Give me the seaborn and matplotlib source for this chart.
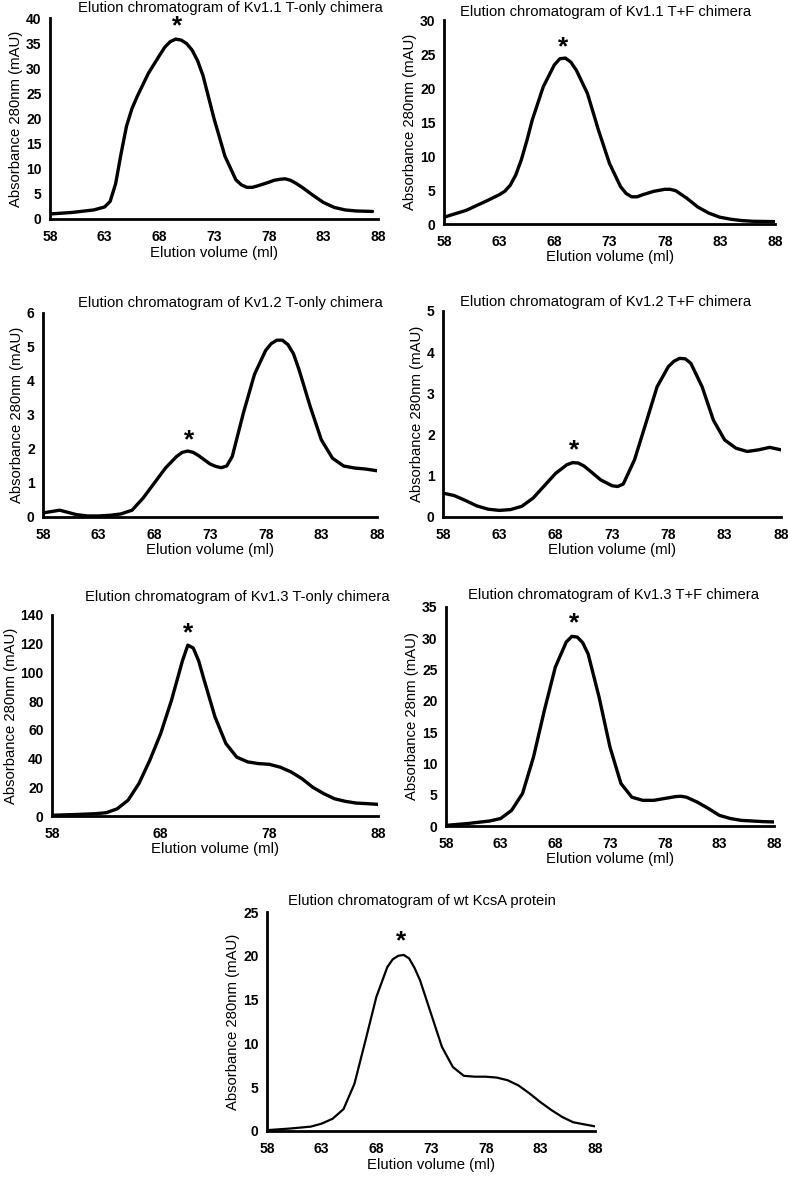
import matplotlib
matplotlib.use("Agg")
import matplotlib.pyplot as plt
import numpy as np
import pandas as pd
import seaborn as sns

sns.set_style("white")
plt.rcParams['font.family'] = ['Liberation Sans', 'DejaVu Sans']
plt.rcParams['text.color'] = 'black'
plt.rcParams['axes.labelcolor'] = 'black'
plt.rcParams['xtick.color'] = 'black'
plt.rcParams['ytick.color'] = 'black'

W, H = 788, 1177

# Kv1.1 T-only
x_11t = [58, 60, 62, 63, 63.5, 64, 64.5, 65, 65.5, 66, 67, 68, 68.5, 69, 69.5, 70, 70.5, 71, 71.5, 72,
         73, 74, 75, 75.5, 76, 76.5, 77, 78, 78.5, 79, 79.5, 80, 80.5, 81, 82, 83, 84, 85, 86, 87.5]
y_11t = [1.0, 1.3, 1.8, 2.4, 3.5, 7, 13, 18.5, 22, 24.5, 29, 32.5, 34.2, 35.3, 35.8, 35.6, 34.9, 33.6, 31.5, 28.5,
         20, 12.5, 7.8, 6.8, 6.3, 6.3, 6.6, 7.3, 7.7, 7.9, 8.0, 7.7, 7.1, 6.4, 4.8, 3.3, 2.3, 1.8, 1.6, 1.5]
# Kv1.1 T+F
x_11f = [58, 60, 62, 63, 63.5, 64, 64.5, 65, 65.5, 66, 67, 68, 68.5, 69, 69.5, 70, 71, 72, 73, 74,
         74.5, 75, 75.5, 76, 77, 78, 78.5, 79, 80, 81, 82, 83, 84, 85, 86, 88]
y_11f = [1.0, 2.0, 3.5, 4.3, 4.8, 5.7, 7.2, 9.4, 12.2, 15.3, 20.2, 23.4, 24.3, 24.4, 23.8, 22.6, 19.2, 13.8, 8.9, 5.5,
         4.5, 4.0, 4.0, 4.3, 4.8, 5.1, 5.1, 4.9, 3.8, 2.5, 1.6, 1.0, 0.7, 0.5, 0.4, 0.35]
# Kv1.2 T-only
x_12t = [58, 59.5, 61, 62, 63, 64, 65, 66, 67, 68, 69, 70, 70.5, 71, 71.5, 72, 73, 73.5, 74, 74.5,
         75, 76, 77, 78, 78.5, 79, 79.5, 80, 80.5, 81, 82, 83, 84, 85, 86, 87, 88]
y_12t = [0.12, 0.2, 0.07, 0.03, 0.03, 0.05, 0.09, 0.2, 0.56, 1.0, 1.44, 1.78, 1.9, 1.94, 1.9, 1.8, 1.56, 1.49, 1.45, 1.5,
         1.78, 3.06, 4.2, 4.9, 5.1, 5.2, 5.2, 5.07, 4.8, 4.33, 3.25, 2.27, 1.73, 1.5, 1.44, 1.41, 1.36]
# Kv1.2 T+F
x_12f = [58, 59, 60, 61, 62, 63, 64, 65, 66, 67, 68, 69, 69.5, 70, 70.5, 71, 72, 73, 73.5, 74,
         75, 76, 77, 78, 78.5, 79, 79.5, 80, 81, 82, 83, 84, 85, 86, 87, 88]
y_12f = [0.58, 0.52, 0.4, 0.27, 0.19, 0.16, 0.18, 0.26, 0.46, 0.76, 1.06, 1.27, 1.32, 1.31, 1.24, 1.13, 0.9, 0.76, 0.74, 0.8,
         1.39, 2.27, 3.16, 3.65, 3.78, 3.85, 3.84, 3.73, 3.16, 2.35, 1.87, 1.67, 1.59, 1.63, 1.69, 1.63]
# Kv1.3 T-only
x_13t = [58, 60, 62, 63, 64, 65, 66, 67, 68, 69, 70, 70.5, 71, 71.5, 72, 73, 74, 75, 76, 77,
         78, 79, 80, 81, 82, 83, 84, 85, 86, 87, 88]
y_13t = [0.5, 1.0, 1.6, 2.3, 5.0, 11.0, 22.6, 38.8, 57.4, 80.7, 108, 119, 117, 108, 94.7, 69, 50.5, 41, 37.7, 36.5,
         36, 34, 30.7, 26, 20, 15.6, 12, 10.2, 9, 8.6, 8.1]
# Kv1.3 T+F
x_13f = [58, 60, 62, 63, 64, 65, 66, 67, 68, 69, 69.5, 70, 70.5, 71, 72, 73, 74, 75, 76, 77,
         78, 79, 79.5, 80, 81, 82, 83, 84, 85, 86, 87, 88]
y_13f = [0.1, 0.4, 0.8, 1.2, 2.5, 5.2, 11, 18.5, 25.4, 29.4, 30.3, 30.2, 29.3, 27.5, 20.6, 12.6, 6.8, 4.6, 4.1, 4.1,
         4.4, 4.7, 4.75, 4.6, 3.8, 2.8, 1.7, 1.2, 0.9, 0.8, 0.7, 0.65]
# wt KcsA
x_wt = [58, 60, 62, 63, 64, 65, 66, 67, 68, 69, 69.5, 70, 70.5, 71, 71.5, 72, 73, 74, 75, 76,
        77, 78, 79, 80, 81, 82, 83, 84, 85, 86, 87, 88]
y_wt = [0.1, 0.27, 0.5, 0.84, 1.4, 2.5, 5.4, 10.3, 15.3, 18.7, 19.6, 20.0, 20.1, 19.7, 18.6, 17.2, 13.4, 9.6, 7.3, 6.3,
        6.2, 6.2, 6.1, 5.8, 5.2, 4.3, 3.3, 2.4, 1.6, 1.0, 0.76, 0.53]

titles = ["Elution chromatogram of Kv1.1 T-only chimera",
          "Elution chromatogram of Kv1.1 T+F chimera",
          "Elution chromatogram of Kv1.2 T-only chimera",
          "Elution chromatogram of Kv1.2 T+F chimera",
          "Elution chromatogram of Kv1.3 T-only chimera",
          "Elution chromatogram of Kv1.3 T+F chimera",
          "Elution chromatogram of wt KcsA protein"]
ylabels = ["Absorbance 280nm (mAU)"] * 5 + ["Absorbance 28nm (mAU)", "Absorbance 280nm (mAU)"]
xs = [x_11t, x_11f, x_12t, x_12f, x_13t, x_13f, x_wt]
ys = [y_11t, y_11f, y_12t, y_12f, y_13t, y_13f, y_wt]
ymax = [40, 30, 6, 5, 140, 35, 25]
ystep = [5, 5, 1, 1, 20, 5, 5]
xstep = [5, 5, 5, 5, 10, 5, 5]
star_x = [69.6, 68.8, 71.1, 69.6, 70.5, 69.7, 70.3]
star_y = [38.3, 26.0, 2.25, 1.63, 127, 32.4, 21.7]

# pixel boxes (left, top, right, bottom) and title centre (x, y)
boxes = [(50, 18, 378, 219), (444, 20, 775, 224),
         (43, 313, 377, 517), (443, 311, 781, 517),
         (52, 615, 378, 816), (446, 607, 774, 826),
         (267, 912, 595, 1131)]
title_pos = [(230, 8), (606, 12), (230, 303), (606, 302), (237, 597), (614, 595), (422, 901)]
lws = [2.4, 2.4, 2.4, 2.4, 2.4, 2.4, 1.6]

fig = plt.figure(figsize=(W / 100, H / 100), dpi=100)

for i in range(7):
    l, t, r, b = boxes[i]
    ax = fig.add_axes([l / W, 1 - b / H, (r - l) / W, (b - t) / H])
    df = pd.DataFrame({"x": xs[i], "y": ys[i]})
    sns.lineplot(data=df, x="x", y="y", ax=ax, color="black", linewidth=lws[i])
    ax.lines[0].set_solid_joinstyle("round")
    ax.lines[0].set_solid_capstyle("round")
    ax.set_xlim(58, 88)
    ax.set_ylim(0, ymax[i])
    ax.set_xticks(np.arange(58, 89, xstep[i]))
    ax.set_yticks(np.arange(0, ymax[i] + 0.01, ystep[i]))
    ax.tick_params(length=0, labelsize=10)
    ax.tick_params(axis="x", pad=8)
    ax.tick_params(axis="y", pad=6)
    for lab in ax.get_xticklabels() + ax.get_yticklabels():
        lab.set_fontweight("bold")
    sns.despine(ax=ax)
    for s in ["left", "bottom"]:
        ax.spines[s].set_linewidth(2)
        ax.spines[s].set_color("black")
    ax.set_xlabel("Elution volume (ml)", fontsize=10.7, labelpad=1)
    ax.set_ylabel(ylabels[i], fontsize=10.7, labelpad=2)
    ax.text(star_x[i], star_y[i], "*", ha="center", va="center",
            fontsize=19, fontweight="bold")
    tx, ty = title_pos[i]
    fig.text(tx / W, 1 - ty / H, titles[i], ha="center", va="center", fontsize=10.6)

fig.savefig("out.png", dpi=100)
